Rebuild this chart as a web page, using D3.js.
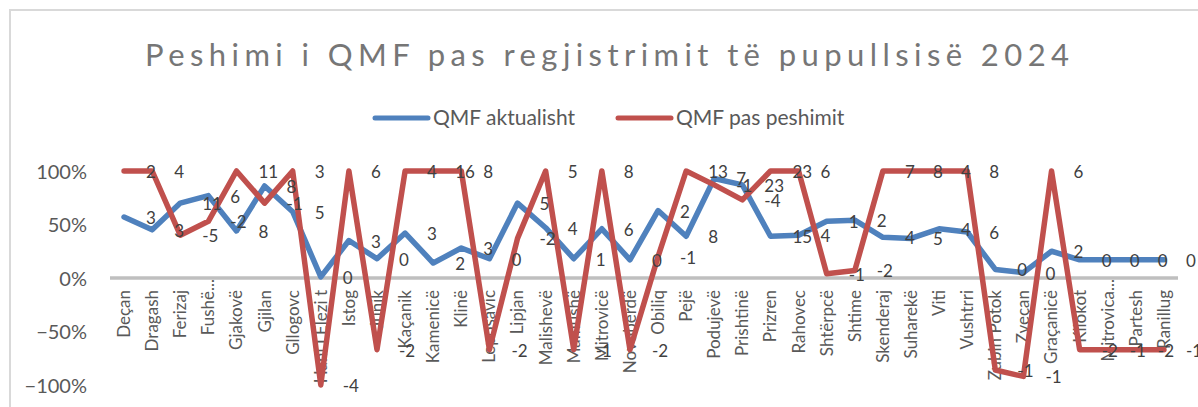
<!DOCTYPE html>
<html>
<head>
<meta charset="utf-8">
<script src="https://cdn.jsdelivr.net/npm/d3@7/dist/d3.min.js"></script>
<style>
  html, body { margin: 0; padding: 0; background: #fff; }
  svg { display: block; }
  text { font-family: Lato, "Open Sans", sans-serif; }
</style>
</head>
<body>
<script>
const categories = ["Deçan","Dragash","Ferizaj","Fushë...","Gjakovë","Gjilan","Gllogovc","Hani I Elezi t","Istog","Junik","Kaçanik","Kamenicë","Klinë","Leposavic","Lipjan","Malishevë","Mamushë","Mitrovicë","Novobërdë","Obiliq","Pejë","Podujevë","Prishtinë","Prizren","Rahovec","Shtërpcë","Shtime","Skenderaj","Suharekë","Viti","Vushtrri","Zubin Potok","Zveçan","Graçanicë","Kllokot","Mitrovica...","Partesh","Ranillug"];

// QMF aktualisht (share, 1 = 100%)
const blueValues = [0.57,0.45,0.70,0.77,0.44,0.86,0.62,0.01,0.35,0.18,0.42,0.14,0.28,0.18,0.70,0.47,0.18,0.46,0.17,0.63,0.39,0.93,0.87,0.39,0.40,0.53,0.54,0.38,0.37,0.46,0.43,0.08,0.05,0.25,0.17,0.17,0.17,0.17];
// QMF pas peshimit
const redValues = [1.00,1.00,0.40,0.53,1.00,0.70,1.00,-1.00,1.00,-0.67,1.00,1.00,1.00,-0.67,0.37,1.00,-0.67,1.00,-0.67,0.20,1.00,0.87,0.73,1.00,1.00,0.04,0.07,1.00,1.00,1.00,1.00,-0.86,-0.92,1.00,-0.67,-0.67,-0.67,-0.67];

const blueLabels = ["3","3","11","6","8","8","5","0","3","0","3","2","3","0","5","4","1","6","0","2","8","7","23","15","4","1","2","4","5","4","6","0","0","2","0","0","0","0"];
const redLabels = ["2","4","-5","-2","11","-1","3","-4","6","-2","4","16","8","-2","-2","5","-1","8","-2","-1","13","-1","-4","23","6","-1","-2","7","8","4","8","-1","-1","6","-2","-1","-2","-1"];

const yTicks = [-1,-0.5,0,0.5,1];
const seriesNames = ["QMF aktualisht","QMF pas peshimit"];
const titleText = "Peshimi i QMF pas regjistrimit të pupullsisë 2024";

const W = 1198, H = 407;
const blue = "#4f81bd", red = "#c0504d";

const svg = d3.select("body").append("svg").attr("width", W).attr("height", H);
svg.append("rect").attr("width", W).attr("height", H).attr("fill", "#fff");
// chart border
svg.append("path").attr("d", `M10,${H+5} L10,10 L${W+5},10`).attr("fill","none").attr("stroke","#d9d9d9").attr("stroke-width",2);

// title
svg.append("text").attr("x", 145).attr("y", 66)
  .attr("textLength", 924).attr("lengthAdjust","spacing")
  .attr("font-size", 31).attr("font-weight", 400).attr("fill", "#767676")
  .text(titleText);

const x = d3.scaleBand().domain(categories).range([110, 1178]);
const y = d3.scaleLinear().domain([-1, 1]).range([385, 171]);
const cx = c => x(c) + x.bandwidth()/2;

// y axis labels
const yAxis = d3.axisLeft(y).tickValues(yTicks).tickFormat(d3.format(".0%")).tickSize(0).tickPadding(0);
const gy = svg.append("g").attr("transform","translate(87,0)").call(yAxis);
gy.select(".domain").remove();
gy.selectAll("text").attr("font-size", 20).attr("fill", "#595959").attr("font-family","Lato, sans-serif").attr("dy","0.35em");

// zero line
svg.append("line").attr("x1", 110).attr("x2", 1178).attr("y1", y(0)).attr("y2", y(0))
  .attr("stroke", "#bfbfbf").attr("stroke-width", 3.5);

// x labels
const xAxis = d3.axisBottom(x).tickSize(0).tickPadding(0);
const gx = svg.append("g").attr("transform", `translate(0,${y(0)})`).call(xAxis);
gx.select(".domain").remove();
gx.selectAll("text")
  .attr("font-size", 17).attr("fill", "#595959").attr("font-family","Lato, sans-serif")
  .attr("text-anchor","end")
  .attr("transform", d => `translate(0,${d.endsWith("...") ? 1 : 12}) rotate(-90)`)
  .attr("x", 0).attr("y", 0).attr("dy", "0.35em");

// lines
const line = vals => d3.line().x((d,i) => cx(categories[i])).y(d => y(d))(vals);
svg.append("path").attr("d", line(blueValues)).attr("fill","none").attr("stroke", blue)
  .attr("stroke-width", 5.5).attr("stroke-linejoin","round").attr("stroke-linecap","round");
svg.append("path").attr("d", line(redValues)).attr("fill","none").attr("stroke", red)
  .attr("stroke-width", 5.5).attr("stroke-linejoin","round").attr("stroke-linecap","round");

// data labels (position: right)
function labels(vals, labs) {
  svg.append("g").selectAll("text").data(vals).join("text")
    .attr("x", (d,i) => cx(categories[i]) + 22)
    .attr("y", d => y(d) + 1)
    .attr("dy", "0.35em")
    .attr("font-size", 17).attr("fill", "#404040")
    .text((d,i) => labs[i]);
}
labels(blueValues, blueLabels);
labels(redValues, redLabels);

// legend
const leg = [{name: seriesNames[0], color: blue, x: 373}, {name: seriesNames[1], color: red, x: 616}];
const lg = svg.append("g");
leg.forEach(l => {
  lg.append("line").attr("x1", l.x + 2).attr("x2", l.x + 55).attr("y1", 118).attr("y2", 118)
    .attr("stroke", l.color).attr("stroke-width", 5).attr("stroke-linecap","round");
  lg.append("text").attr("x", l.x + 60).attr("y", 118).attr("dy","0.35em")
    .attr("font-size", 21).attr("fill", "#595959").text(l.name);
});
</script>
</body>
</html>
